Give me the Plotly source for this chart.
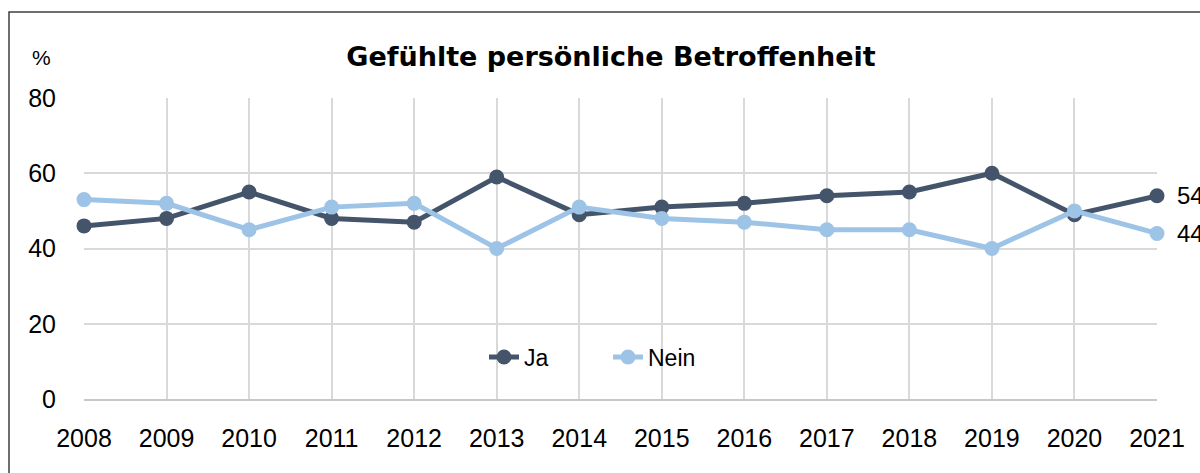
import plotly.graph_objects as go

years = list(range(2008, 2022))
ja = [46, 48, 55, 48, 47, 59, 49, 51, 52, 54, 55, 60, 49, 54]
nein = [53, 52, 45, 51, 52, 40, 51, 48, 47, 45, 45, 40, 50, 44]
y_ticks = [0, 20, 40, 60, 80]
title_text = "Gefühlte persönliche Betroffenheit"

JA_COLOR = "#44546a"
NEIN_COLOR = "#9dc3e6"
FONT = "Liberation Sans, Arial, sans-serif"
TITLE_FONT = "DejaVu Sans, Liberation Sans, sans-serif"

# plot area in pixels
L, R, T, B = 84, 1157, 98, 399
PW, PH = R - L, B - T


def px_x(x):
    return (x - L) / PW


def px_y(y):
    return (B - y) / PH


fig = go.Figure()
fig.add_trace(go.Scatter(x=years, y=ja, name="Ja", mode="lines+markers",
                         line=dict(color=JA_COLOR, width=5),
                         marker=dict(color=JA_COLOR, size=15), cliponaxis=False,
                         legend="legend"))
fig.add_trace(go.Scatter(x=years, y=nein, name="Nein", mode="lines+markers",
                         line=dict(color=NEIN_COLOR, width=5),
                         marker=dict(color=NEIN_COLOR, size=15), cliponaxis=False,
                         legend="legend2"))

# end labels
for series in (ja, nein):
    fig.add_annotation(x=years[-1], y=series[-1], xref="x", yref="y",
                       text=str(series[-1]), showarrow=False, xanchor="left",
                       xshift=18, font=dict(family=FONT, size=24, color="#000000"))

fig.add_annotation(x=px_x(41), y=px_y(57), xref="paper", yref="paper",
                   text="%", showarrow=False, xanchor="center", yanchor="middle",
                   font=dict(family=FONT, size=21, color="#000000"))

# outer frame (extends beyond the visible area like the reference)
fig.add_shape(type="rect", xref="paper", yref="paper",
              x0=px_x(9), x1=px_x(1230), y0=px_y(500), y1=px_y(12),
              line=dict(color="#3f3f3f", width=1.5), layer="below")

leg_common = dict(orientation="h", xanchor="left", yanchor="middle",
                  bgcolor="rgba(0,0,0,0)",
                  font=dict(family=FONT, size=23, color="#000000"))

fig.update_layout(
    width=1200, height=473,
    margin=dict(l=L, r=1200 - R, t=T, b=473 - B),
    paper_bgcolor="white", plot_bgcolor="white",
    title=dict(text=title_text, x=611 / 1200, xref="container", xanchor="center",
               y=1 - 57 / 473, yref="container", yanchor="middle",
               font=dict(family=TITLE_FONT, size=27, color="#000000", weight="bold")),
    showlegend=True,
    legend=dict(x=px_x(484), y=px_y(357), **leg_common),
    legend2=dict(x=px_x(608), y=px_y(357), **leg_common),
    font=dict(family=FONT, color="#000000"),
)
fig.update_xaxes(range=[2008, 2021], tickmode="array", tickvals=years,
                 ticktext=[str(y) for y in years],
                 showgrid=True, gridcolor="#d9d9d9", gridwidth=2,
                 showline=True, linecolor="#c8c8c8", linewidth=2,
                 ticks="outside", ticklen=16, tickcolor="rgba(0,0,0,0)",
                 tickfont=dict(family=FONT, size=25, color="#000000"),
                 zeroline=False, fixedrange=True)
fig.update_yaxes(range=[0, 80], tickvals=y_ticks,
                 showgrid=True, gridcolor="#d9d9d9", gridwidth=2,
                 showline=False, zeroline=False,
                 ticks="outside", ticklen=22, tickcolor="rgba(0,0,0,0)",
                 tickfont=dict(family=FONT, size=25, color="#000000"),
                 fixedrange=True)

fig.write_html("out.html", config={"displayModeBar": False},
               post_script="document.body.style.margin='0';")
